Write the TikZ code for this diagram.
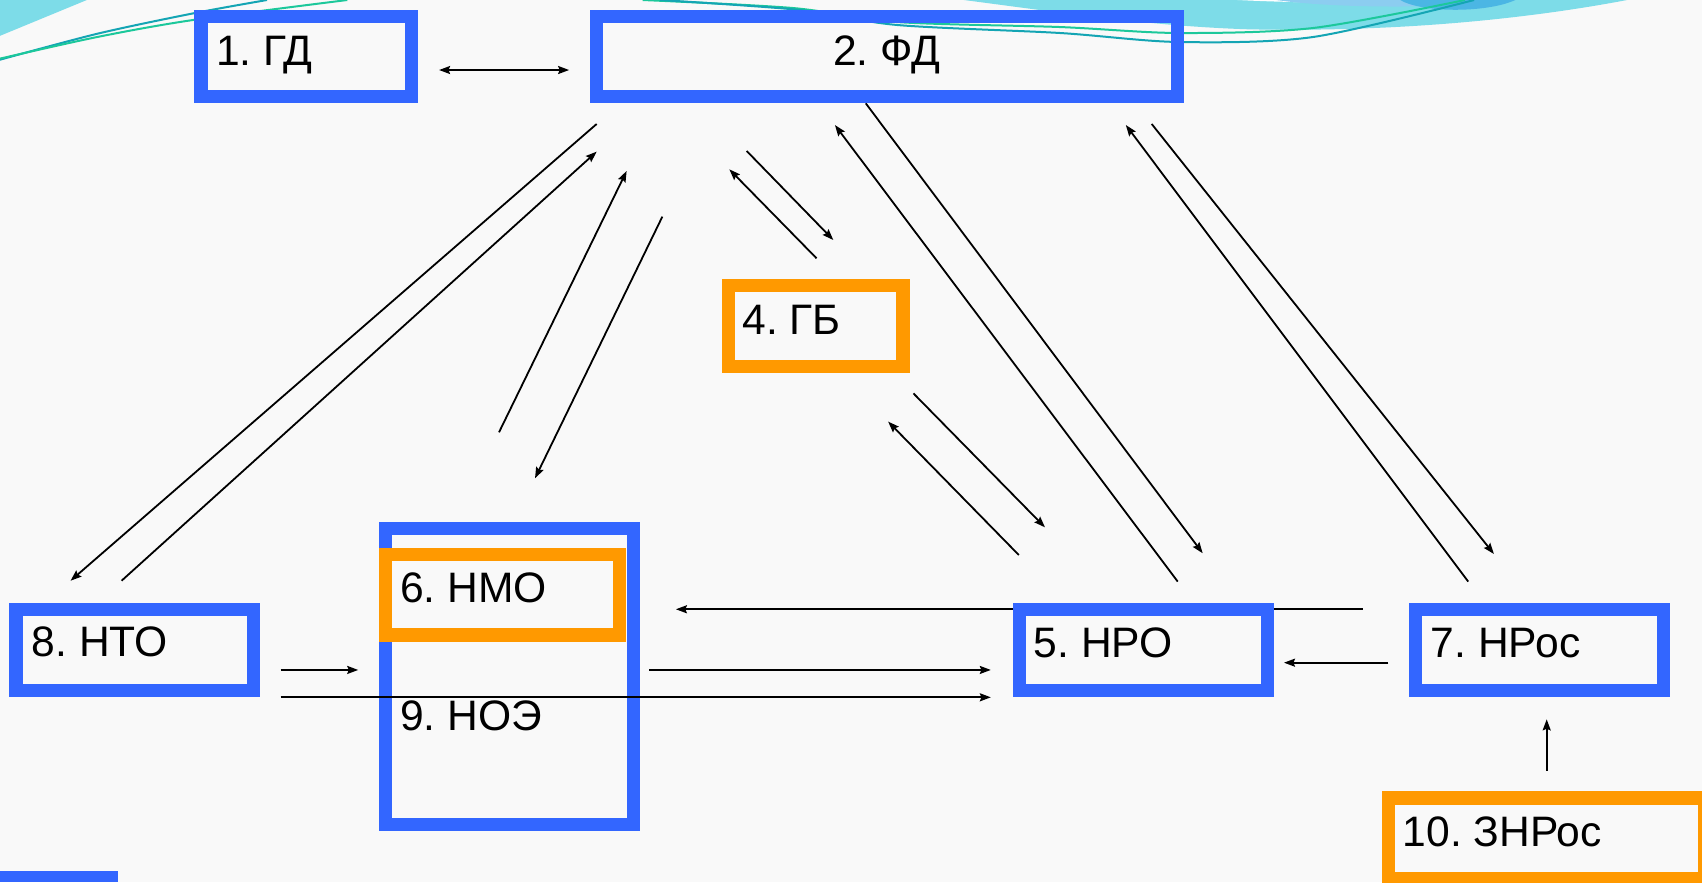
\documentclass[tikz,border=0pt]{standalone}
\usepackage{fontspec}
\setmainfont{Liberation Sans}
\usetikzlibrary{arrows.meta}
\definecolor{boxblue}{RGB}{51,102,255}
\definecolor{boxorange}{RGB}{255,153,0}
\definecolor{bgcol}{RGB}{249,249,249}
\definecolor{cyanwave}{RGB}{125,220,232}
\definecolor{lightblue}{RGB}{140,205,240}
\definecolor{midblue}{RGB}{75,182,228}
\definecolor{tealline}{RGB}{20,165,180}
\definecolor{greenline}{RGB}{28,200,155}
\frenchspacing
\begin{document}
\begin{tikzpicture}[x=0.5428pt,y=-0.5428pt,
  bw/.style={minimum width=#1*0.5428pt},
  bh/.style={minimum height=#1*0.5428pt},
  bluebox/.style={draw=boxblue, line width=6.7pt, inner sep=0pt, outer sep=0pt},
  orangebox/.style={draw=boxorange, line width=6.7pt, inner sep=0pt, outer sep=0pt},
  lab/.style={anchor=base west, inner sep=0pt, font=\fontsize{21.3pt}{25pt}\selectfont},
  arr/.style={line width=0.9pt, -{Stealth[length=5.5pt,width=4pt,inset=0.8pt]}},
  darr/.style={line width=0.9pt, {Stealth[length=5.5pt,width=4pt,inset=0.8pt]}-{Stealth[length=5.5pt,width=4pt,inset=0.8pt]}},
  deco/.style={line width=1pt}
]
\useasboundingbox (0,0) rectangle (1568,813);
\fill[bgcol] (0,0) rectangle (1568,813);

% decorations
\fill[cyanwave] (0,0) -- (80,0) -- (0,33) -- cycle;
\fill[cyanwave] (888,0) .. controls (980,12) and (1060,24) .. (1150,27) .. controls (1300,30) and (1420,15) .. (1499,0) -- cycle;
\fill[white] (1140,0) .. controls (1200,3) and (1260,3) .. (1308,0) -- cycle;
\fill[lightblue] (1176,0) .. controls (1230,8) and (1340,8) .. (1396,0) -- cycle;
\fill[midblue] (1290,0) .. controls (1310,12) and (1370,12) .. (1396,0) -- cycle;
\draw[deco, tealline] plot[smooth] coordinates {(0,55) (90,31) (178,12.3) (246,0)};
\draw[deco, greenline] plot[smooth] coordinates {(0,54) (90,34) (178,18.4) (320,0)};
\draw[deco, greenline] plot[smooth] coordinates {(592,0) (730.6,7.4) (826.3,20.3) (976.5,24.9) (1086,30.4) (1209.6,25.8) (1349.6,0)};
\draw[deco, tealline] plot[smooth] coordinates {(608,0) (737,9.2) (826.3,23) (976.5,30.4) (1086,38.7) (1209.6,34.1) (1358,0)};
\fill[boxblue] (0,802) rectangle (109,813);

% connector end points
\coordinate (a1s) at (404.5,64.5);  \coordinate (a1e) at (524.3,64.5);
\coordinate (a2s) at (549.7,114.2); \coordinate (a2e) at (65,535);
\coordinate (a3s) at (112,535);     \coordinate (a3e) at (549.7,139.7);
\coordinate (a4s) at (459.7,398.3); \coordinate (a4e) at (577.3,157.5);
\coordinate (a5s) at (610.2,199.6); \coordinate (a5e) at (492.9,440.6);
\coordinate (a6s) at (687.9,139.1); \coordinate (a6e) at (767.7,221.1);
\coordinate (a7s) at (752.3,238);   \coordinate (a7e) at (671.9,156);
\coordinate (a8s) at (841.5,362.4); \coordinate (a8e) at (962.7,485.8);
\coordinate (a9s) at (938.6,511.3); \coordinate (a9e) at (818.2,388.4);
\coordinate (a10s) at (797.6,95.2); \coordinate (a10e) at (1108,509.7);
\coordinate (a11s) at (1085,535.8); \coordinate (a11e) at (769.2,115.2);
\coordinate (a12s) at (1061,114.2); \coordinate (a12e) at (1376.3,510.4);
\coordinate (a13s) at (1352.6,535.8); \coordinate (a13e) at (1037.2,115.2);
\coordinate (a14s) at (1255.4,561.3); \coordinate (a14e) at (622.7,561.3);
\coordinate (a15s) at (258.5,617.2); \coordinate (a15e) at (330,617.2);
\coordinate (a16s) at (598.3,617.2); \coordinate (a16e) at (912.8,617.2);
\coordinate (a17s) at (258.5,642.4); \coordinate (a17e) at (912.8,642.4);
\coordinate (a18s) at (1279,610.5); \coordinate (a18e) at (1182.9,610.5);
\coordinate (a19s) at (1424.9,710); \coordinate (a19e) at (1424.9,662.7);

% connectors under the boxes
\draw[darr] (a1s) -- (a1e);
\foreach \i in {2,...,16,18,19} { \draw[arr] (a\i s) -- (a\i e); }

% boxes
\node[bluebox, bw=194.2, bh=73.7] (b1) at (282.25,52.2) {};
\node[bluebox, bw=534.9, bh=73.7] (b2) at (817.1,52.2) {};
\node[orangebox, bw=160.9, bh=74.5] (b4) at (751.4,300.4) {};
\node[bluebox, bw=218.6, bh=74.9] (b8) at (124.05,598.8) {};
\node[bluebox, bw=228.3, bh=272.6] (b69) at (469.3,623.05) {};
\node[orangebox, bw=215.4, bh=74.2] (b6) at (462.85,547.75) {};
\node[bluebox, bw=228.4, bh=74.9] (b5) at (1053.35,598.8) {};
\node[bluebox, bw=228.2, bh=74.9] (b7) at (1418.25,598.8) {};
\node[orangebox, bw=291.7, bh=74.7] (b10) at (1425,772.5) {};

% labels
\node[lab] (t1) at (198.7,59.9) {1. ГД};
\node[lab, anchor=base] (t2) at (817,60) {2. ФД};
\node[lab] (t4) at (683.7,308.6) {4. ГБ};
\node[lab] (t8) at (29,605) {8. НТО};
\node[lab] (t6) at (368.4,555) {6. НМО};
\node[lab] (t9) at (368.4,673) {9. НОЭ};
\node[lab] (t5) at (952,605.3) {5. НРО};
\node[lab] (t7) at (1317.8,605.5) {7. НРос};
\node[lab] (t10) at (1292,780) {10. ЗНРос};

% connector drawn over the big box
\draw[arr] (a17s) -- (a17e);
\end{tikzpicture}
\end{document}
